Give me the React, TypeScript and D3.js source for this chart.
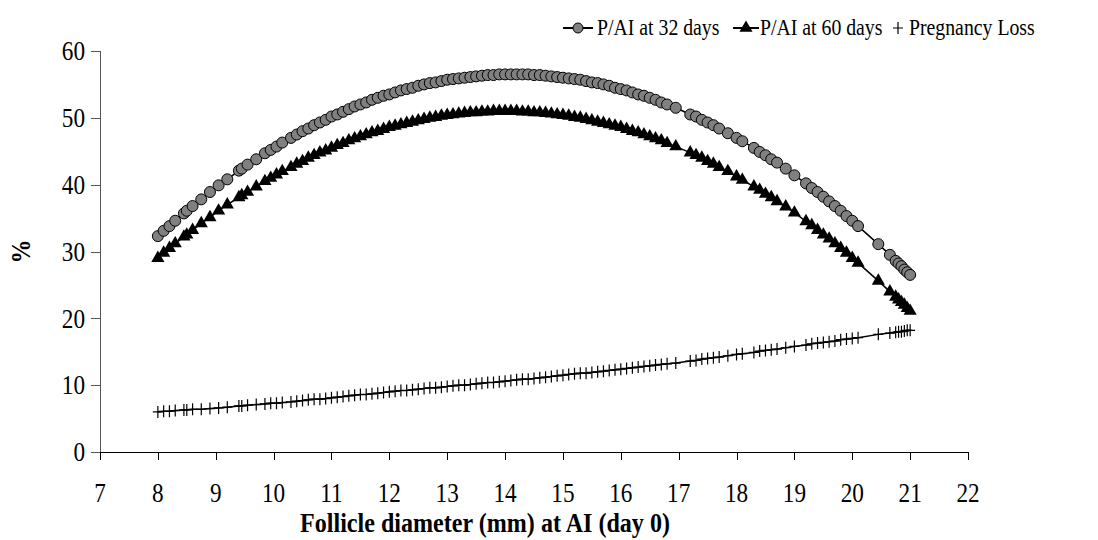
import React from 'react';
import { scaleLinear, line, symbol, symbolTriangle } from 'd3';

// follicle diameter (mm) at AI, shared by all three series
const diameters = [
  8.0, 8.1, 8.2, 8.3, 8.45, 8.5, 8.6, 8.75, 8.9, 9.05,
  9.2, 9.4, 9.45, 9.55, 9.7, 9.85, 9.95, 10.05, 10.15, 10.3,
  10.4, 10.5, 10.6, 10.7, 10.8, 10.9, 11.0, 11.1, 11.2, 11.3,
  11.4, 11.5, 11.6, 11.7, 11.8, 11.9, 12.0, 12.1, 12.2, 12.3,
  12.4, 12.5, 12.6, 12.7, 12.8, 12.9, 13.0, 13.1, 13.2, 13.3,
  13.4, 13.5, 13.6, 13.7, 13.8, 13.9, 14.0, 14.1, 14.2, 14.3,
  14.4, 14.5, 14.6, 14.7, 14.8, 14.9, 15.0, 15.1, 15.2, 15.3,
  15.4, 15.5, 15.6, 15.7, 15.8, 15.9, 16.0, 16.1, 16.2, 16.3,
  16.4, 16.5, 16.6, 16.7, 16.8, 16.95, 17.2, 17.3, 17.4, 17.5,
  17.6, 17.7, 17.85, 18.0, 18.1, 18.3, 18.4, 18.5, 18.6, 18.7,
  18.85, 19.0, 19.2, 19.3, 19.4, 19.5, 19.6, 19.7, 19.8, 19.9,
  20.0, 20.1, 20.45, 20.65, 20.75, 20.8, 20.85, 20.9, 20.95, 21.0,
];

const pai32 = [
  32.3, 33.1, 33.8, 34.6, 35.7, 36.1, 36.8, 37.8, 38.9, 39.9,
  40.8, 42.1, 42.4, 43.0, 43.8, 44.7, 45.2, 45.7, 46.3, 47.0,
  47.5, 48.0, 48.4, 48.9, 49.3, 49.7, 50.2, 50.5, 50.9, 51.3,
  51.7, 52.0, 52.3, 52.7, 53.0, 53.3, 53.5, 53.8, 54.1, 54.3,
  54.5, 54.8, 55.0, 55.2, 55.3, 55.5, 55.7, 55.8, 55.9, 56.0,
  56.1, 56.2, 56.3, 56.4, 56.4, 56.5, 56.5, 56.5, 56.5, 56.5,
  56.5, 56.4, 56.4, 56.3, 56.2, 56.1, 56.0, 55.9, 55.8, 55.7,
  55.5, 55.3, 55.2, 55.0, 54.8, 54.5, 54.3, 54.1, 53.8, 53.5,
  53.3, 53.0, 52.7, 52.3, 52.0, 51.5, 50.5, 50.2, 49.7, 49.3,
  48.9, 48.4, 47.7, 47.0, 46.5, 45.5, 44.9, 44.4, 43.8, 43.3,
  42.4, 41.4, 40.2, 39.5, 38.9, 38.2, 37.5, 36.8, 36.1, 35.3,
  34.6, 33.8, 31.1, 29.5, 28.6, 28.2, 27.8, 27.3, 26.9, 26.5,
];

const pai60 = [
  29.0, 29.8, 30.5, 31.2, 32.2, 32.5, 33.2, 34.2, 35.1, 36.1,
  37.0, 38.1, 38.4, 38.9, 39.7, 40.5, 41.0, 41.5, 42.0, 42.6,
  43.1, 43.5, 44.0, 44.4, 44.8, 45.1, 45.5, 45.9, 46.2, 46.6,
  46.9, 47.2, 47.5, 47.8, 48.0, 48.3, 48.6, 48.8, 49.0, 49.2,
  49.4, 49.6, 49.8, 50.0, 50.1, 50.3, 50.4, 50.5, 50.6, 50.7,
  50.8, 50.8, 50.9, 50.9, 51.0, 51.0, 51.0, 51.0, 51.0, 50.9,
  50.9, 50.8, 50.8, 50.7, 50.6, 50.5, 50.4, 50.3, 50.1, 50.0,
  49.8, 49.6, 49.4, 49.2, 49.0, 48.8, 48.6, 48.3, 48.0, 47.8,
  47.5, 47.2, 46.9, 46.6, 46.2, 45.7, 44.8, 44.4, 44.0, 43.5,
  43.1, 42.6, 42.0, 41.2, 40.7, 39.7, 39.2, 38.6, 38.1, 37.5,
  36.7, 35.8, 34.5, 33.9, 33.2, 32.5, 31.9, 31.2, 30.5, 29.8,
  29.0, 28.3, 25.6, 24.0, 23.2, 22.8, 22.4, 22.0, 21.5, 21.1,
];

const pregLoss = [
  6.0, 6.1, 6.1, 6.2, 6.3, 6.3, 6.4, 6.4, 6.5, 6.6,
  6.7, 6.9, 6.9, 7.0, 7.1, 7.2, 7.3, 7.3, 7.4, 7.5,
  7.6, 7.7, 7.8, 7.9, 7.9, 8.0, 8.1, 8.2, 8.3, 8.4,
  8.5, 8.6, 8.6, 8.7, 8.8, 8.9, 9.0, 9.1, 9.2, 9.2,
  9.3, 9.4, 9.5, 9.6, 9.6, 9.7, 9.8, 9.9, 10.0, 10.0,
  10.1, 10.2, 10.3, 10.4, 10.4, 10.5, 10.6, 10.7, 10.8, 10.9,
  10.9, 11.0, 11.1, 11.2, 11.3, 11.4, 11.5, 11.6, 11.7, 11.8,
  11.8, 11.9, 12.0, 12.1, 12.2, 12.3, 12.4, 12.5, 12.6, 12.7,
  12.8, 12.9, 13.0, 13.1, 13.2, 13.3, 13.6, 13.7, 13.9, 14.0,
  14.1, 14.2, 14.4, 14.6, 14.7, 14.9, 15.1, 15.2, 15.3, 15.4,
  15.6, 15.8, 16.0, 16.2, 16.3, 16.4, 16.5, 16.6, 16.8, 16.9,
  17.0, 17.1, 17.6, 17.8, 17.9, 18.0, 18.0, 18.1, 18.2, 18.2,
];

const xTicks = [7, 8, 9, 10, 11, 12, 13, 14, 15, 16, 17, 18, 19, 20, 21, 22];
const yTicks = [0, 10, 20, 30, 40, 50, 60];

const xAxisLabel = 'Follicle diameter (mm) at AI (day 0)';
const yAxisLabel = '%';
const legendLabels = ['P/AI at 32 days', 'P/AI at 60 days', 'Pregnancy Loss'];

const width = 1098;
const height = 540;
const font = '"Liberation Serif", "Times New Roman", serif';
const squeeze = 0.86; // the text in the picture is a bit narrow for its height

const xScale = scaleLinear().domain([7, 22]).range([100, 968]);
const yScale = scaleLinear().domain([0, 60]).range([452, 51]);

const triPath = symbol().type(symbolTriangle).size(75)();

const Txt = ({ x, y, rotate = 0, size, bold = false, anchor = 'start', dy = null, children }) => (
  <text
    transform={`translate(${x},${y}) rotate(${rotate}) scale(${squeeze},1)`}
    textAnchor={anchor}
    dy={dy}
    fontFamily={font}
    fontSize={size}
    fontWeight={bold ? 'bold' : 'normal'}
    fill="#000"
  >
    {children}
  </text>
);

const Plus = ({ x, y }) => (
  <path d={`M${x - 5},${y}H${x + 5}M${x},${y - 6}V${y + 6}`} stroke="#000" strokeWidth={1.2} fill="none" />
);

export default function App() {
  const mk = (vals) =>
    line()
      .x((d, i) => xScale(diameters[i]))
      .y((d) => yScale(d))(vals);

  return (
    <svg width={width} height={height} style={{ position: 'absolute', left: 0, top: 0, background: '#fff' }}>
      <rect width={width} height={height} fill="#fff" />

      {/* y axis */}
      <line x1={100.5} x2={100.5} y1={yScale(60)} y2={yScale(0)} stroke="#555" />
      {yTicks.map((t) => (
        <g key={t}>
          <line x1={91} x2={100} y1={Math.round(yScale(t)) + 0.5} y2={Math.round(yScale(t)) + 0.5} stroke="#555" />
          <Txt x={85} y={yScale(t)} dy="0.34em" anchor="end" size={27}>
            {t}
          </Txt>
        </g>
      ))}
      <Txt x={30} y={(yScale(0) + yScale(60)) / 2} rotate={-90} anchor="middle" size={28} bold>
        {yAxisLabel}
      </Txt>

      {/* x axis */}
      <line x1={100} x2={968.5} y1={452.5} y2={452.5} stroke="#000" />
      {xTicks.map((t) => (
        <g key={t}>
          <line x1={Math.round(xScale(t)) + 0.5} x2={Math.round(xScale(t)) + 0.5} y1={452} y2={460} stroke="#000" />
          <Txt x={xScale(t)} y={502} anchor="middle" size={27}>
            {t}
          </Txt>
        </g>
      ))}
      <Txt x={485} y={532} anchor="middle" size={28} bold>
        {xAxisLabel}
      </Txt>

      {/* series */}
      <path d={mk(pregLoss)} fill="none" stroke="#000" strokeWidth={1.5} />
      {pregLoss.map((v, i) => (
        <Plus key={'p' + i} x={xScale(diameters[i])} y={yScale(v)} />
      ))}

      <path d={mk(pai60)} fill="none" stroke="#000" strokeWidth={1.5} />
      {pai60.map((v, i) => (
        <path key={'t' + i} d={triPath} transform={`translate(${xScale(diameters[i])},${yScale(v)})`} fill="#000" />
      ))}

      <path d={mk(pai32)} fill="none" stroke="#000" strokeWidth={1.5} />
      {pai32.map((v, i) => (
        <circle key={'c' + i} cx={xScale(diameters[i])} cy={yScale(v)} r={5.5} fill="#808080" stroke="#000" strokeWidth={1} />
      ))}

      {/* legend */}
      <line x1={563} x2={593} y1={28} y2={28} stroke="#000" strokeWidth={2} />
      <circle cx={578} cy={28} r={5} fill="#808080" stroke="#000" />
      <Txt x={597} y={35} size={23}>{legendLabels[0]}</Txt>

      <line x1={733} x2={759} y1={28} y2={28} stroke="#000" strokeWidth={2} />
      <path d={triPath} transform="translate(746,28)" fill="#000" />
      <Txt x={760} y={35} size={23}>{legendLabels[1]}</Txt>

      <Plus x={898} y={28} />
      <Txt x={909} y={35} size={23}>{legendLabels[2]}</Txt>
    </svg>
  );
}
